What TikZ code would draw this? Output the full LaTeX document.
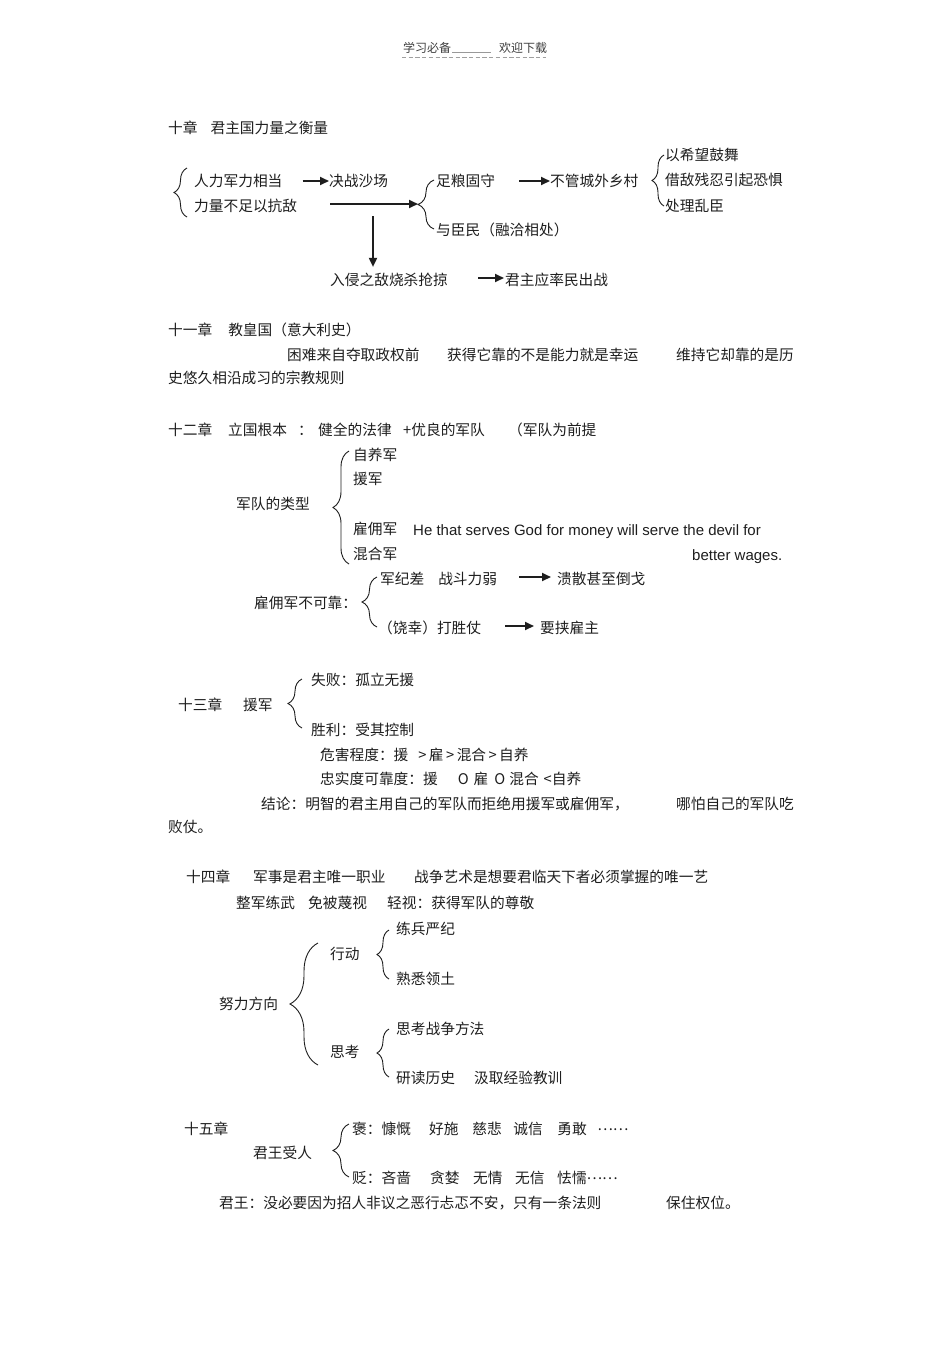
\documentclass[tikz,border=0pt]{standalone}
\usepackage{fontspec}
\newfontfamily\cjk{Noto Sans CJK SC}
\newfontfamily\lat{Liberation Sans}
\usetikzlibrary{arrows.meta,decorations.pathreplacing}
\definecolor{ink}{HTML}{1E1E1E}
\newcommand{\midell}{\raisebox{4.5pt}{……}}
\begin{document}
\begin{tikzpicture}[x=1pt,y=-1pt,
  txt/.style={anchor=west, inner sep=0pt, text height=12.5pt, text depth=1.3pt,
              font=\cjk\fontsize{14.7}{17}\selectfont, text=ink},
  eng/.style={txt, font=\lat\fontsize{15}{17}\selectfont},
  hdr/.style={txt, font=\cjk\fontsize{12}{14}\selectfont, text height=10pt, text depth=1pt, text=ink!85},
  arr/.style={line width=1.8pt, draw=ink, -{Triangle[length=9pt,width=8pt]}},
  lbr/.style={decorate, decoration={brace, amplitude=#1}, line width=0.9pt, draw=ink},
]
\fill[white] (0,0) rectangle (950,1345);
\path[use as bounding box] (0,0) rectangle (950,1345);

% header
\node[hdr] (h1) at (403,48) {学习必备};
\node[hdr] (h2) at (499,48) {欢迎下载};
\coordinate (ul) at (452,52.5);
\coordinate (ur) at (491,52.5);
\draw[draw=gray!80, line width=0.8pt] (ul) -- (ur);
\coordinate (hl) at (402,57);
\coordinate (hr) at (546,57);
\draw[draw=gray!75, line width=1pt, dash pattern=on 4.3pt off 2.4pt] (hl) -- (hr);

% chapter 10
\node[txt] (t10) at (168,128) {十章\hspace{13pt}君主国力量之衡量};
\node[txt] (a1) at (194,181) {人力军力相当};
\node[txt] (a2) at (194,206) {力量不足以抗敌};
\draw[lbr=13pt] (187,217) -- (187,168);
\node[txt] (b1) at (329,181) {决战沙场};
\draw[arr] ([xshift=20pt]a1.east) -- (b1.west);
\coordinate (c0) at (418,204);
\draw[lbr=16pt] (434,229) -- (434,180);
\node[txt] (c1) at (436,181) {足粮固守};
\node[txt] (c2) at (436,230) {与臣民（融洽相处）};
\coordinate (a2s) at (330,204);
\draw[arr] (a2s) -- (c0);
\coordinate (vs) at (373,216);
\node[txt] (f1) at (330,280) {入侵之敌烧杀抢掠};
\draw[arr, shorten >=6pt] (vs) -- (vs |- f1.north);
\node[txt] (f2) at (505,280) {君主应率民出战};
\draw[arr] ([shift={(30pt,2pt)}]f1.east) -- ([shift={(-1pt,2pt)}]f2.west);
\node[txt] (d1) at (550,181) {不管城外乡村};
\draw[arr] ([xshift=24pt]c1.east) -- (d1.west);
\draw[lbr=12pt] (664,206) -- (664,155);
\node[txt] (e1) at (665,155) {以希望鼓舞};
\node[txt] (e2) at (665,180) {借敌残忍引起恐惧};
\node[txt] (e3) at (665,206) {处理乱臣};

% chapter 11
\node[txt] (t11) at (168,330) {十一章\hspace{16pt}教皇国（意大利史）};
\node[txt] (p1) at (287,355) {困难来自夺取政权前};
\node[txt] (p2) at (447,355) {获得它靠的不是能力就是幸运};
\node[txt] (p3) at (676,355) {维持它却靠的是历};
\node[txt] (p4) at (168,378) {史悠久相沿成习的宗教规则};

% chapter 12
\node[txt] (t12) at (168,430) {十二章};
\node[txt] (t12b) at (228,430) {立国根本};
\node[txt] (t12c) at (298,430) {：};
\node[txt] (t12d) at (318,430) {健全的法律};
\node[txt] (t12e) at (403,430) {+优良的军队};
\node[txt] (t12f) at (508,430) {（军队为前提};

\node[txt] (k0) at (236,504) {军队的类型};
\draw[lbr=16pt] (349,564) -- (349,451);
\node[txt] (k1) at (353,455) {自养军};
\node[txt] (k2) at (353,479) {援军};
\node[txt] (k3) at (353,529) {雇佣军};
\node[eng] (k3e) at (413,530) {He that serves God for money will serve the devil for};
\node[txt] (k4) at (353,554) {混合军};
\node[eng] (k4e) at (692,555) {better wages.};

\node[txt] (m0) at (254,603) {雇佣军不可靠：};
\draw[lbr=15pt] (377,627) -- (377,577);
\node[txt] (m1) at (380,579) {军纪差\hspace{14pt}战斗力弱};
\node[txt] (m1r) at (557,579) {溃散甚至倒戈};
\draw[arr] ([shift={(22pt,2pt)}]m1.east) -- ([shift={(-6pt,2pt)}]m1r.west);
\node[txt] (m2) at (378,628) {（饶幸）打胜仗};
\node[txt] (m2r) at (540,628) {要挟雇主};
\draw[arr] ([shift={(24pt,2pt)}]m2.east) -- ([shift={(-6pt,2pt)}]m2r.west);

% chapter 13
\node[txt] (t13) at (178,705) {十三章};
\node[txt] (t13b) at (243,705) {援军};
\draw[lbr=14pt] (302,728) -- (302,679);
\node[txt] (s1) at (311,680) {失败：孤立无援};
\node[txt] (s2) at (311,730) {胜利：受其控制};
\node[txt] (s3) at (320,755) {危害程度：援\hspace{10pt}>\,雇\,>\,混合\,>\,自养};
\node[txt] (s4) at (320,779) {忠实度可靠度：援\hspace{20pt}O\hspace{5pt}雇\hspace{6pt}O\hspace{4pt}混合\hspace{5pt}<自养};
\node[txt] (s5) at (261,804) {结论：明智的君主用自己的军队而拒绝用援军或雇佣军，};
\node[txt] (s6) at (676,804) {哪怕自己的军队吃};
\node[txt] (s7) at (168,827) {败仗。};

% chapter 14
\node[txt] (t14) at (186,877) {十四章};
\node[txt] (t14b) at (253,877) {军事是君主唯一职业};
\node[txt] (t14c) at (414,877) {战争艺术是想要君临天下者必须掌握的唯一艺};
\node[txt] (u1) at (236,903) {整军练武};
\node[txt] (u2) at (308,903) {免被蔑视};
\node[txt] (u3) at (387,903) {轻视：获得军队的尊敬};

\node[txt] (v0) at (219,1004) {努力方向};
\draw[lbr=28pt] (318,1065) -- (318,943);
\node[txt] (v1) at (330,954) {行动};
\draw[lbr=12pt] (389,979) -- (389,930);
\node[txt] (v11) at (396,929) {练兵严纪};
\node[txt] (v12) at (396,979) {熟悉领土};
\node[txt] (v2) at (330,1052) {思考};
\draw[lbr=12pt] (389,1077) -- (389,1029);
\node[txt] (v21) at (396,1029) {思考战争方法};
\node[txt] (v22) at (396,1078) {研读历史};
\node[txt] (v22b) at (474,1078) {汲取经验教训};

% chapter 15
\node[txt] (t15) at (184,1129) {十五章};
\node[txt] (w0) at (253,1153) {君王受人};
\draw[lbr=16pt] (349,1177) -- (349,1124);
\node[txt] (w1) at (352,1129) {褒：慷慨\hspace{18.2pt}好施\hspace{13.8pt}慈悲\hspace{11.6pt}诚信\hspace{14.6pt}勇敢\hspace{10.6pt}\midell};
\node[txt] (w2) at (352,1178) {贬：吝啬\hspace{19.2pt}贪婪\hspace{13.6pt}无情\hspace{12.6pt}无信\hspace{12.6pt}怯懦\midell};
\node[txt] (w3) at (219,1203) {君王：没必要因为招人非议之恶行忐忑不安，只有一条法则};
\node[txt] (w4) at (666,1203) {保住权位。};
\end{tikzpicture}
\end{document}
